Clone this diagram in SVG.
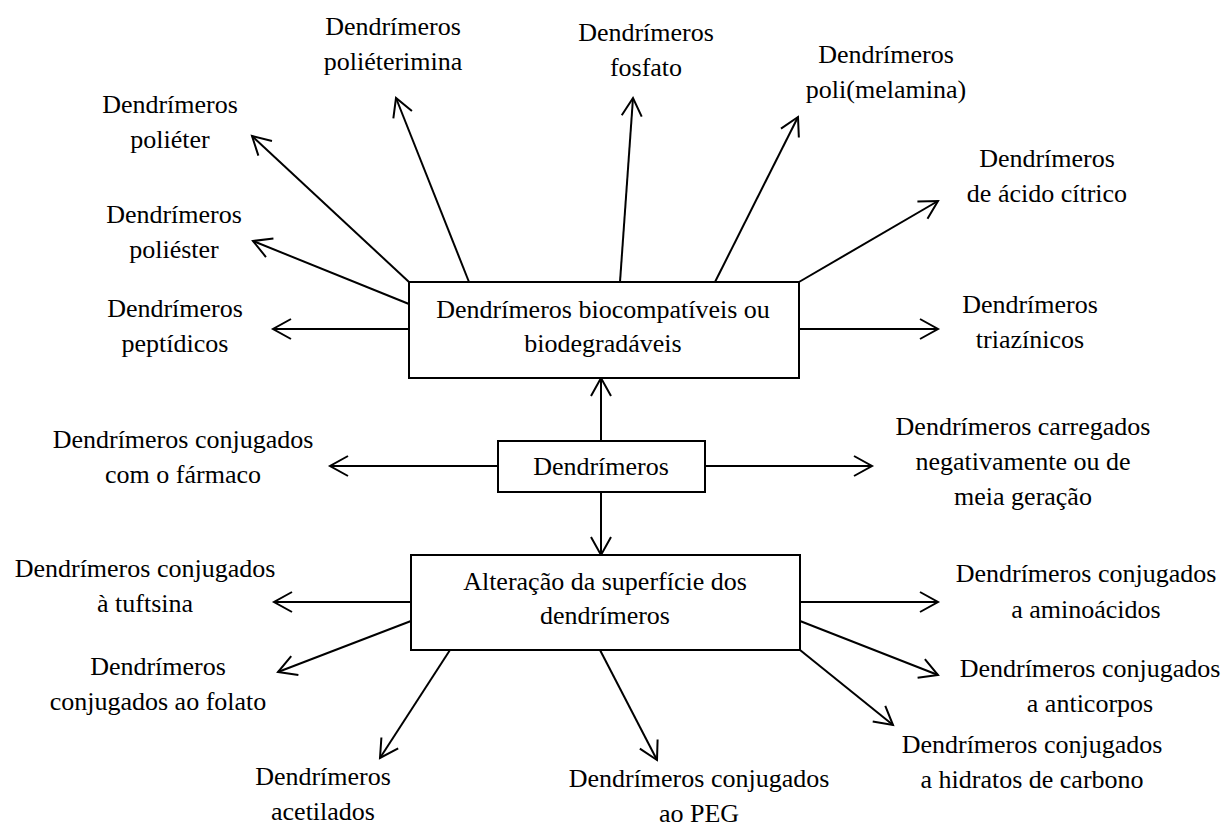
<svg xmlns="http://www.w3.org/2000/svg" width="1224" height="830" viewBox="0 0 1224 830">
  <defs>
    <marker id="arrow" markerUnits="userSpaceOnUse" viewBox="-20 -12 22 24" refX="0" refY="0" markerWidth="22" markerHeight="24" orient="auto" overflow="visible">
      <path d="M-18,-10 L0,0 L-18,10" fill="none" stroke="#000" stroke-width="2" stroke-linejoin="miter"/>
    </marker>
    <style>
      text { font-family: "Liberation Serif", "Times New Roman", serif; font-size: 26px; fill: #000; text-anchor: middle; }
      .box { fill: #fff; stroke: #000; stroke-width: 2; }
      .conn line { stroke: #000; stroke-width: 2; marker-end: url(#arrow); }
    </style>
  </defs>
  <rect width="1224" height="830" fill="#fff"/>

  <!-- connectors -->
  <g id="connectors" class="conn">
    <!-- from the biocompatible box -->
    <line x1="409" y1="282" x2="252" y2="136"/>
    <line x1="409" y1="304" x2="253" y2="241"/>
    <line x1="409" y1="329" x2="273" y2="329"/>
    <line x1="469" y1="282" x2="396" y2="98"/>
    <line x1="620" y1="282" x2="633" y2="98"/>
    <line x1="715" y1="282" x2="798" y2="117"/>
    <line x1="799" y1="282" x2="938" y2="201"/>
    <line x1="799" y1="329" x2="938" y2="329"/>
    <!-- from the central box -->
    <line x1="601" y1="441" x2="601" y2="378"/>
    <line x1="601" y1="492" x2="601" y2="555"/>
    <line x1="498" y1="466" x2="330" y2="466"/>
    <line x1="705" y1="466" x2="872" y2="466"/>
    <!-- from the surface-modification box -->
    <line x1="411" y1="602" x2="274" y2="602"/>
    <line x1="411" y1="621" x2="278" y2="672"/>
    <line x1="450" y1="650" x2="380" y2="758"/>
    <line x1="600" y1="650" x2="657" y2="760"/>
    <line x1="800" y1="602" x2="938" y2="602"/>
    <line x1="800" y1="621" x2="938" y2="675"/>
    <line x1="800" y1="650" x2="893" y2="725"/>
  </g>

  <!-- main boxes -->
  <g id="node-biocompativeis">
    <rect class="box" x="409" y="282" width="390" height="96"/>
    <text x="603" y="318">Dendrímeros biocompatíveis ou</text>
    <text x="603" y="352">biodegradáveis</text>
  </g>
  <g id="node-dendrimeros">
    <rect class="box" x="498" y="441" width="207" height="51"/>
    <text x="601" y="475">Dendrímeros</text>
  </g>
  <g id="node-superficie">
    <rect class="box" x="411" y="555" width="389" height="95"/>
    <text x="605" y="590">Alteração da superfície dos</text>
    <text x="605" y="624">dendrímeros</text>
  </g>

  <!-- outer labels -->
  <g id="node-polieter">
    <text x="170" y="113">Dendrímeros</text>
    <text x="170" y="148">poliéter</text>
  </g>
  <g id="node-poliester">
    <text x="174" y="223">Dendrímeros</text>
    <text x="174" y="258">poliéster</text>
  </g>
  <g id="node-peptidicos">
    <text x="175" y="317">Dendrímeros</text>
    <text x="175" y="352">peptídicos</text>
  </g>
  <g id="node-polieterimina">
    <text x="393" y="35">Dendrímeros</text>
    <text x="393" y="70">poliéterimina</text>
  </g>
  <g id="node-fosfato">
    <text x="646" y="41">Dendrímeros</text>
    <text x="646" y="76">fosfato</text>
  </g>
  <g id="node-polimelamina">
    <text x="886" y="63">Dendrímeros</text>
    <text x="886" y="98">poli(melamina)</text>
  </g>
  <g id="node-citrico">
    <text x="1047" y="167">Dendrímeros</text>
    <text x="1047" y="202">de ácido cítrico</text>
  </g>
  <g id="node-triazinicos">
    <text x="1030" y="313">Dendrímeros</text>
    <text x="1030" y="348">triazínicos</text>
  </g>
  <g id="node-farmaco">
    <text x="183" y="448">Dendrímeros conjugados</text>
    <text x="183" y="483">com o fármaco</text>
  </g>
  <g id="node-carregados">
    <text x="1023" y="435">Dendrímeros carregados</text>
    <text x="1023" y="470">negativamente ou de</text>
    <text x="1023" y="505">meia geração</text>
  </g>
  <g id="node-tuftsina">
    <text x="145" y="577">Dendrímeros conjugados</text>
    <text x="145" y="612">à tuftsina</text>
  </g>
  <g id="node-folato">
    <text x="158" y="675">Dendrímeros</text>
    <text x="158" y="710">conjugados ao folato</text>
  </g>
  <g id="node-acetilados">
    <text x="323" y="785">Dendrímeros</text>
    <text x="323" y="820">acetilados</text>
  </g>
  <g id="node-peg">
    <text x="699" y="787">Dendrímeros conjugados</text>
    <text x="699" y="822">ao PEG</text>
  </g>
  <g id="node-aminoacidos">
    <text x="1086" y="582">Dendrímeros conjugados</text>
    <text x="1086" y="618">a aminoácidos</text>
  </g>
  <g id="node-anticorpos">
    <text x="1090" y="677">Dendrímeros conjugados</text>
    <text x="1090" y="712">a anticorpos</text>
  </g>
  <g id="node-hidratos">
    <text x="1032" y="753">Dendrímeros conjugados</text>
    <text x="1032" y="788">a hidratos de carbono</text>
  </g>
</svg>
